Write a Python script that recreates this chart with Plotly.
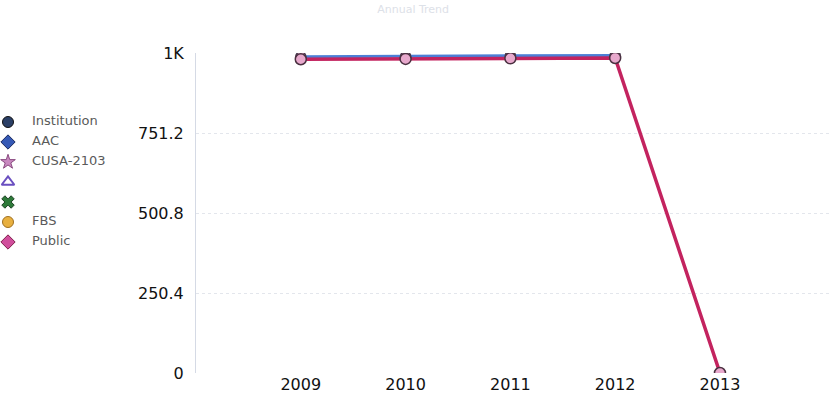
import plotly.graph_objects as go

years = [2009, 2010, 2011, 2012, 2013]
institution = [990, 991, 993, 994, None]
public = [982, 983, 985, 986, 0]

series_names = ["Institution", "AAC", "CUSA-2103", "", "", "FBS", "Public"]
series_symbols = ["circle", "diamond", "star", "triangle-up-open", "x", "circle", "diamond"]
series_colors = ["#2b3f66", "#3559b5", "#c98ac0", "#6a4fc0", "#2e7a3a", "#e8b040", "#d04e9c"]
series_edges = ["#111111", "#1a2a60", "#8a4a80", "#6a4fc0", "#1a4020", "#a07020", "#80204c"]

y_ticks = [0, 250.4, 500.8, 751.2, 1001.6]
y_tick_text = ["0", "250.4", "500.8", "751.2", "1K"]

W, H = 833, 400
PLOT_L, PLOT_R = 196, 830
TOP, BOTTOM = 53, 373

fig = go.Figure()

# data lines
fig.add_trace(go.Scatter(
    x=years, y=institution, name="Institution", mode="lines+markers",
    line=dict(color="#4d7fd6", width=3),
    marker=dict(symbol="circle", size=10, color="#e7b0d0", line=dict(color="#4a3a50", width=1.5)),
    showlegend=False, xaxis="x", yaxis="y",
))
fig.add_trace(go.Scatter(
    x=years, y=public, name="Public", mode="lines+markers",
    line=dict(color="#c3235f", width=3.5),
    marker=dict(symbol="circle", size=11, color="#e7a8cc", line=dict(color="#4a3040", width=1.5)),
    showlegend=False, xaxis="x", yaxis="y",
))

# legend drawn on an auxiliary pixel-scaled axis pair in the left margin
n = len(series_names)
leg_y = [122 + 20 * i for i in range(n)]
fig.add_trace(go.Scatter(
    x=[8] * n, y=leg_y, mode="markers", showlegend=False, hoverinfo="skip",
    marker=dict(size=11, symbol=series_symbols, color=series_colors,
                line=dict(color=series_edges, width=[1, 1, 1, 2, 1, 1, 1])),
    xaxis="x2", yaxis="y2",
))
fig.add_trace(go.Scatter(
    x=[32] * n, y=leg_y, mode="text", text=series_names, textposition="middle right",
    textfont=dict(size=13, color="#5a5a5a", family="DejaVu Sans, Verdana, sans-serif"),
    showlegend=False, hoverinfo="skip", xaxis="x2", yaxis="y2",
))

fig.update_layout(
    width=W, height=H,
    margin=dict(l=0, r=0, t=TOP, b=H - BOTTOM),
    paper_bgcolor="white", plot_bgcolor="white",
    font=dict(family="DejaVu Sans, Verdana, sans-serif", color="#111"),
    title=dict(text="Annual Trend", x=0.496, xanchor="center", y=0.988, yanchor="top",
               font=dict(size=11, color="#dde1e8")),
    showlegend=False,
    hovermode=False,
    xaxis=dict(domain=[PLOT_L / W, PLOT_R / W], range=[2008, 2014.05], tickvals=years,
               ticktext=[str(y) for y in years], anchor="y",
               showgrid=False, zeroline=False, showline=False, ticks="",
               tickfont=dict(size=16, color="#111")),
    yaxis=dict(domain=[0, 1], anchor="x", range=[0, 1001.6], tickvals=y_ticks, ticktext=y_tick_text,
               showgrid=True, gridcolor="#e3e6ec", griddash="dot", gridwidth=1,
               zeroline=False, showline=True, linecolor="#d5dae5", linewidth=1,
               ticks="", ticklabelstandoff=8,
               tickfont=dict(size=16, color="#111")),
    xaxis2=dict(domain=[0, 190 / W], range=[0, 190], visible=False, anchor="y2", fixedrange=True),
    yaxis2=dict(domain=[0, 1], range=[BOTTOM, TOP], visible=False, anchor="x2", fixedrange=True),
)

fig.write_html("out.html", config={"displayModeBar": False},
               post_script="document.body.style.margin='0';")
